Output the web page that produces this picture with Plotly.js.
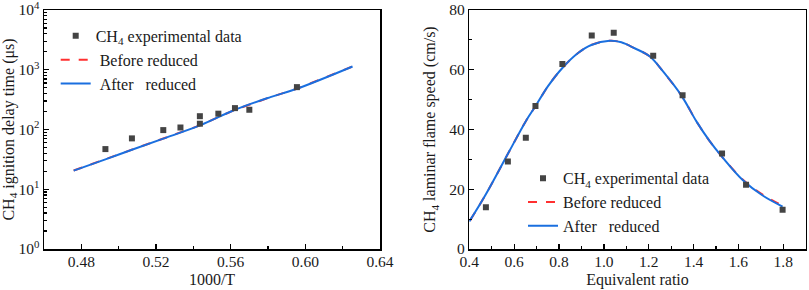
<!DOCTYPE html>
<html>
<head>
<meta charset="utf-8">
<script src="https://cdn.plot.ly/plotly-3.0.1.min.js"></script>
<style>html,body{margin:0;padding:0;background:#fff;}#chart{width:809px;height:290px;}</style>
</head>
<body>
<div id="chart"></div>
<script>
// ---- Left panel: ignition delay time ----
const idtExpX = [0.4929, 0.5071, 0.5239, 0.5331, 0.5435, 0.5435, 0.5534, 0.5623, 0.5700, 0.5955];
const idtExpY = [47, 71, 97.7, 108, 167, 125, 184, 228, 214, 512];
const idtBeforeX = [0.4759, 0.4929, 0.5071, 0.5239, 0.5435, 0.5623, 0.5813, 0.5955, 0.6253];
const idtBeforeY = [20.6, 31.7, 46.0, 70.0, 117, 214, 348, 481, 1135];
const idtAfterX = [0.4759, 0.4929, 0.5071, 0.5239, 0.5435, 0.5623, 0.5813, 0.5955, 0.6253];
const idtAfterY = [20.5, 31.6, 45.9, 70.2, 117, 214, 348, 481, 1135];
const idtYTickVals = [1, 10, 100, 1000, 10000];
const idtYTickText = ['10<sup>0</sup>', '10<sup>1</sup>', '10<sup>2</sup>', '10<sup>3</sup>', '10<sup>4</sup>'];

// ---- Right panel: laminar flame speed ----
const lfsExpX = [0.474, 0.572, 0.652, 0.695, 0.815, 0.946, 1.044, 1.220, 1.351, 1.527, 1.634, 1.797];
const lfsExpY = [14.0, 29.3, 37.2, 47.9, 61.9, 71.5, 72.4, 64.7, 51.5, 32.0, 21.5, 13.1];
const lfsBeforeX = [0.403, 0.470, 0.571, 0.652, 0.695, 0.751, 0.815, 0.885, 0.944, 1.026, 1.078, 1.137, 1.204, 1.263, 1.348, 1.412, 1.471, 1.530, 1.619, 1.708, 1.797];
const lfsBeforeY = [9.5, 17.8, 31.7, 42.8, 47.8, 54.5, 60.6, 65.6, 68.3, 69.7, 69.2, 67.2, 64.5, 59.5, 51.1, 42.8, 36.2, 30.6, 23.3, 18.2, 14.5];
const lfsAfterX = [0.400, 0.470, 0.571, 0.652, 0.695, 0.751, 0.815, 0.885, 0.944, 1.026, 1.078, 1.137, 1.204, 1.263, 1.348, 1.412, 1.471, 1.530, 1.619, 1.708, 1.797];
const lfsAfterY = [9.2, 17.8, 31.7, 42.8, 47.8, 54.5, 60.6, 65.6, 68.3, 69.7, 69.2, 67.2, 64.5, 59.5, 51.1, 42.8, 36.2, 30.6, 23.1, 17.9, 14.2];

const expName = 'CH<sub>4</sub> experimental data';
const beforeName = 'Before reduced';
const afterName = 'After\u00a0\u00a0 reduced';

const FONT = '"Liberation Serif", "Times New Roman", serif';
const TXT = '#1a1a1a';
const BLUE = '#1a6fdf';
const RED = '#ff3030';
const MARK = '#444444';

const traces = [
  {x: idtBeforeX, y: idtBeforeY, mode: 'lines', name: '\u00a0' + beforeName, line: {color: RED, width: 2, dash: 'dash'}, xaxis: 'x', yaxis: 'y', legend: 'legend', legendrank: 2},
  {x: idtAfterX, y: idtAfterY, mode: 'lines', name: '\u00a0' + afterName, line: {color: BLUE, width: 2, shape: 'spline'}, xaxis: 'x', yaxis: 'y', legend: 'legend', legendrank: 3},
  {x: idtExpX, y: idtExpY, mode: 'markers', name: expName, marker: {symbol: 'square', size: 6, color: MARK}, xaxis: 'x', yaxis: 'y', legend: 'legend', legendrank: 1},
  {x: lfsBeforeX, y: lfsBeforeY, mode: 'lines', name: beforeName, line: {color: RED, width: 2, dash: 'dash', shape: 'spline'}, xaxis: 'x2', yaxis: 'y2', legend: 'legend2', legendrank: 2},
  {x: lfsAfterX, y: lfsAfterY, mode: 'lines', name: afterName, line: {color: BLUE, width: 2, shape: 'spline'}, xaxis: 'x2', yaxis: 'y2', legend: 'legend2', legendrank: 3},
  {x: lfsExpX, y: lfsExpY, mode: 'markers', name: expName, marker: {symbol: 'square', size: 6, color: MARK}, xaxis: 'x2', yaxis: 'y2', legend: 'legend2', legendrank: 1}
];

const axCommon = {
  showgrid: false, zeroline: false, showline: true, linecolor: '#000', linewidth: 1.5, mirror: true,
  ticks: 'inside', ticklen: 5, tickwidth: 1.3, tickcolor: '#000',
  tickfont: {family: FONT, size: 15.5, color: TXT}, ticklabeloverflow: 'allow',
  minor: {ticks: 'inside', ticklen: 3, tickwidth: 1.1, tickcolor: '#000', showgrid: false}
};

const legendCommon = {
  font: {family: FONT, size: 16, color: TXT}, bgcolor: 'rgba(0,0,0,0)', borderwidth: 0,
  xanchor: 'left', yanchor: 'top', traceorder: 'normal', tracegroupgap: 0
};

const layout = {
  width: 809, height: 290,
  margin: {l: 0, r: 0, t: 10, b: 41},
  paper_bgcolor: '#fff', plot_bgcolor: '#fff',
  font: {family: FONT, color: TXT},
  showlegend: true,
  xaxis: Object.assign({}, axCommon, {
    domain: [44/809, 380/809], range: [0.46, 0.64], dtick: 0.04, tick0: 0.48,
    tickformat: '.2f', ticklabelstandoff: -2, minor: Object.assign({}, axCommon.minor, {dtick: 0.02, tick0: 0.48}),
    title: {text: '1000/T', font: {family: FONT, size: 16, color: TXT}, standoff: 4}, anchor: 'y'
  }),
  yaxis: Object.assign({}, axCommon, {
    domain: [0, 1], type: 'log', range: [-0.0005, 4.0005], tickvals: idtYTickVals, ticktext: idtYTickText,
    minor: Object.assign({}, axCommon.minor, {dtick: 'D1'}),
    title: {text: 'CH<sub>4</sub> ignition delay time (μs)', font: {family: FONT, size: 16, color: TXT}, standoff: 2}, anchor: 'x'
  }),
  xaxis2: Object.assign({}, axCommon, {
    domain: [469.3/809, 805.7/809], range: [0.4, 1.9], dtick: 0.2, tick0: 0.4,
    tickformat: '.1f', ticklabelstandoff: -2, minor: Object.assign({}, axCommon.minor, {dtick: 0.1, tick0: 0.4}),
    title: {text: 'Equivalent ratio', font: {family: FONT, size: 16, color: TXT}, standoff: 4}, anchor: 'y2'
  }),
  yaxis2: Object.assign({}, axCommon, {
    domain: [0, 1], range: [0, 80], dtick: 20, tick0: 0,
    minor: Object.assign({}, axCommon.minor, {dtick: 10, tick0: 0}),
    title: {text: 'CH<sub>4</sub> laminar flame speed (cm/s)', font: {family: FONT, size: 16, color: TXT}, standoff: 9}, anchor: 'x2'
  }),
  legend: Object.assign({}, legendCommon, {x: 55.7/809, y: 0.9625}),
  legend2: Object.assign({}, legendCommon, {x: 523/809, y: 0.367})
};

Plotly.newPlot('chart', traces, layout, {displayModeBar: false, staticPlot: true});
</script>
</body>
</html>
